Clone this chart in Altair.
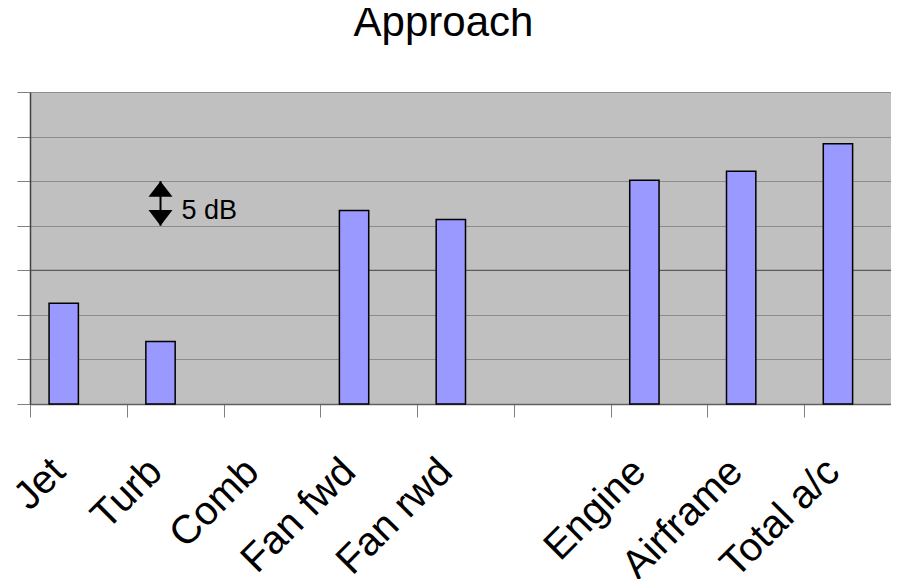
import altair as alt
import pandas as pd

FONT = "Liberation Sans"

categories = ["Jet", "Turb", "Comb", "Fan fwd", "Fan rwd", " ", "Engine", "Airframe", "Total a/c"]
levels_db = [11.3, 7.0, None, 21.7, 20.7, None, 25.1, 26.1, 29.2]
series = ["a"] * len(categories)
y_ticks = [0, 5, 10, 15, 20, 25, 30, 35]
dark_grid = [15]
scale_bar_cat = ["Turb"]
scale_bar_top = [25]
scale_bar_bottom = [20]
scale_bar_label = ["5 dB"]

bars_df = pd.DataFrame({"cat": categories, "db": levels_db, "series": series})
bars_df = bars_df.dropna()
grid_df = pd.DataFrame({"db": dark_grid})
ann_df = pd.DataFrame({
    "cat": scale_bar_cat, "series": ["a"], "db": scale_bar_top,
    "bottom": scale_bar_bottom, "label": scale_bar_label,
})

x_scale = alt.Scale(domain=categories, paddingInner=0, paddingOuter=0, range=[0, 871])
off_scale = alt.Scale(domain=["a", "b"], paddingInner=0, paddingOuter=0.65)
y_scale = alt.Scale(domain=[0, 35], nice=False, zero=True)

x_axis = alt.Axis(
    title=None, tickBand="extent", labelAngle=-45, labelAlign="right",
    labelBaseline="middle", labelOffset=-20, labelPadding=48,
    labelFontSize=40, labelFont=FONT, labelColor="black",
    labelOverlap=False, labelLimit=400, tickSize=13, tickColor="#808080",
    domainColor="#606060", domainWidth=1.5, grid=False,
)
y_axis = alt.Axis(
    title=None, values=y_ticks, labels=False, tickSize=13,
    tickColor="#808080", domainColor="#404040", domainWidth=1.5,
    grid=True, gridColor="#8c8c8c", gridWidth=1,
)


def xe():
    return alt.X("cat:N", scale=x_scale, axis=x_axis)


def oe():
    return alt.XOffset("series:N", scale=off_scale)


def ye(field="db"):
    return alt.Y(f"{field}:Q", scale=y_scale, axis=y_axis)


dark_rule = alt.Chart(grid_df).mark_rule(color="#505050", strokeWidth=1).encode(
    y=ye()
)

bars = alt.Chart(bars_df).mark_bar(
    fill="#9999ff", stroke="black", strokeWidth=1.5
).encode(x=xe(), xOffset=oe(), y=ye())

shaft = alt.Chart(ann_df).mark_rule(color="black", strokeWidth=2).encode(
    x=xe(), xOffset=oe(), y=ye(), y2="bottom:Q",
)
tri_up = alt.Chart(ann_df).mark_point(
    shape="M0,0L1,1.3L-1,1.3Z", filled=True, fill="black", size=576,
    opacity=1, strokeWidth=0,
).encode(x=xe(), xOffset=oe(), y=ye())
tri_down = alt.Chart(ann_df).mark_point(
    shape="M0,0L1,-1.3L-1,-1.3Z", filled=True, fill="black", size=576,
    opacity=1, strokeWidth=0,
).encode(x=xe(), xOffset=oe(), y=ye("bottom"))
ann_text = alt.Chart(ann_df).mark_text(
    align="left", baseline="middle", dx=21, dy=-15, fontSize=27,
    font=FONT, color="black",
).encode(x=xe(), xOffset=oe(), y=ye("bottom"), text="label:N")

chart = alt.layer(dark_rule, bars, shaft, tri_up, tri_down, ann_text).properties(
    width=861, height=312,
    background="white",
    title=alt.Title("Approach", fontSize=42, font=FONT, fontWeight="normal",
                    color="black", anchor="middle", dx=-17, offset=47),
    padding={"left": 22, "top": 84, "right": 0, "bottom": 175},
    autosize=alt.AutoSizeParams(type="none"),
).configure_view(fill="#c0c0c0", stroke=None)

chart.save("out.html", embed_options={"renderer": "svg", "actions": False})
